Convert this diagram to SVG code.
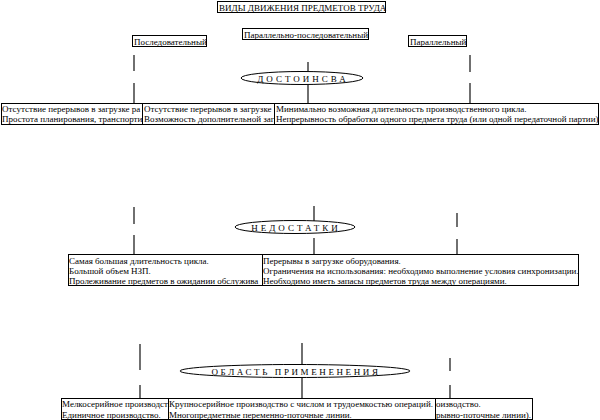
<svg xmlns="http://www.w3.org/2000/svg" width="600" height="420" viewBox="0 0 600 420">
<style>
text{font-family:"Liberation Serif","Times New Roman",serif;font-size:9px;fill:#000}
.box{fill:#fff;stroke:#000;stroke-width:1}
.ell{fill:#fff;stroke:#000;stroke-width:1}
.sp{letter-spacing:3px}
.ln{stroke:#333;stroke-width:1.4;fill:none}
</style>
<defs>
<clipPath id="cA"><rect x="1" y="103" width="141" height="22"/></clipPath>
<clipPath id="cB"><rect x="142" y="103" width="132" height="22"/></clipPath>
<clipPath id="cC"><rect x="274" y="103" width="325" height="22"/></clipPath>
<clipPath id="cD"><rect x="68" y="254" width="194" height="32"/></clipPath>
<clipPath id="cE"><rect x="262" y="254" width="317" height="32"/></clipPath>
<clipPath id="cF"><rect x="61" y="398" width="107" height="21"/></clipPath>
<clipPath id="cG"><rect x="168" y="398" width="267" height="21"/></clipPath>
<clipPath id="cH"><rect x="435" y="398" width="97" height="21"/></clipPath>
</defs>
<rect width="600" height="420" fill="#fff"/>
<g id="connectors">
<line class="ln" x1="134" y1="55" x2="134" y2="71"/>
<line class="ln" x1="134" y1="83" x2="134" y2="103"/>
<line class="ln" x1="308" y1="62" x2="308" y2="71"/>
<line class="ln" x1="308" y1="85" x2="308" y2="103"/>
<line class="ln" x1="470" y1="55" x2="470" y2="72"/>
<line class="ln" x1="470" y1="83" x2="470" y2="103"/>
<line class="ln" x1="134" y1="207" x2="134" y2="224"/>
<line class="ln" x1="134" y1="235" x2="134" y2="254"/>
<line class="ln" x1="314" y1="206" x2="314" y2="221"/>
<line class="ln" x1="314" y1="238" x2="314" y2="254"/>
<line class="ln" x1="457" y1="213" x2="457" y2="227"/>
<line class="ln" x1="457" y1="239" x2="457" y2="254"/>
<line class="ln" x1="140" y1="344" x2="140" y2="370"/>
<line class="ln" x1="140" y1="385" x2="140" y2="398"/>
<line class="ln" x1="302" y1="343" x2="302" y2="365"/>
<line class="ln" x1="302" y1="378" x2="302" y2="398"/>
<line class="ln" x1="450" y1="358" x2="450" y2="371"/>
<line class="ln" x1="450" y1="385" x2="450" y2="398"/>
</g>
<g id="title"><rect class="box" x="217.5" y="1.5" width="168" height="11"/><text x="219" y="10.5">ВИДЫ ДВИЖЕНИЯ ПРЕДМЕТОВ ТРУДА</text></g>
<g id="seq"><rect class="box" x="132.5" y="35.5" width="74" height="11"/><text x="134" y="44.5">Последовательный</text></g>
<g id="parseq"><rect class="box" x="242.5" y="28.5" width="126" height="11"/><text x="244" y="37.5">Параллельно-последовательный</text></g>
<g id="par"><rect class="box" x="408.5" y="35.5" width="58" height="11"/><text x="410" y="44.5">Параллельный</text></g>
<g id="adv"><ellipse class="ell" cx="302" cy="78" rx="61" ry="6.5"/><text class="sp" x="303" y="81.5" text-anchor="middle">ДОСТОИНСВА</text></g>
<g id="advA"><rect class="box" x="1.5" y="103.5" width="141" height="21"/><g clip-path="url(#cA)"><text x="2" y="111.5">Отсутствие перерывов в загрузке ра</text><text x="2" y="121.5">Простота планирования, транспорти</text></g></g>
<g id="advB"><rect class="box" x="142.5" y="103.5" width="132" height="21"/><g clip-path="url(#cB)"><text x="144" y="111.5">Отсутствие перерывов в загрузке</text><text x="144" y="121.5">Возможность дополнительной заг</text></g></g>
<g id="advC"><rect class="box" x="274.5" y="103.5" width="324" height="21"/><g clip-path="url(#cC)"><text x="276" y="111.5">Минимально возможная длительность производственного цикла.</text><text x="276" y="121.5">Непрерывность обработки одного предмета труда (или одной передаточной партии).</text></g></g>
<g id="dis"><ellipse class="ell" cx="295" cy="227" rx="60" ry="6.5"/><text class="sp" x="296" y="230.5" text-anchor="middle">НЕДОСТАТКИ</text></g>
<g id="disD"><rect class="box" x="68.5" y="254.5" width="194" height="31"/><g clip-path="url(#cD)"><text x="69" y="264">Самая большая длительность цикла.</text><text x="69" y="274">Большой объем НЗП.</text><text x="69" y="284">Пролеживание предметов в ожидании обслужива</text></g></g>
<g id="disE"><rect class="box" x="262.5" y="254.5" width="316" height="31"/><g clip-path="url(#cE)"><text x="263" y="264">Перерывы в загрузке оборудования.</text><text x="263" y="274">Ограничения на использования: необходимо выполнение условия синхронизации.</text><text x="263" y="284">Необходимо иметь запасы предметов труда между операциями.</text></g></g>
<g id="app"><ellipse class="ell" cx="295" cy="371" rx="115" ry="6.5"/><text class="sp" x="296" y="374.5" text-anchor="middle" style="letter-spacing:2.6px">ОБЛАСТЬ  ПРИМЕНЕНЕНИЯ</text></g>
<g id="appF"><rect class="box" x="61.5" y="398.5" width="107" height="21"/><g clip-path="url(#cF)"><text x="62" y="407">Мелкосерийное производст</text><text x="62" y="417.5">Единичное производство.</text></g></g>
<g id="appG"><rect class="box" x="168.5" y="398.5" width="267" height="21"/><g clip-path="url(#cG)"><text x="169" y="407">Крупносерийное производство с числом и трудоемкостью операций.</text><text x="169" y="417.5">Многопредметные переменно-поточные линии.</text></g></g>
<g id="appH"><rect class="box" x="435.5" y="398.5" width="97" height="21"/><g clip-path="url(#cH)"><text x="436" y="407">оизводство.</text><text x="436" y="417.5">рывно-поточные линии).</text></g></g>
</svg>
